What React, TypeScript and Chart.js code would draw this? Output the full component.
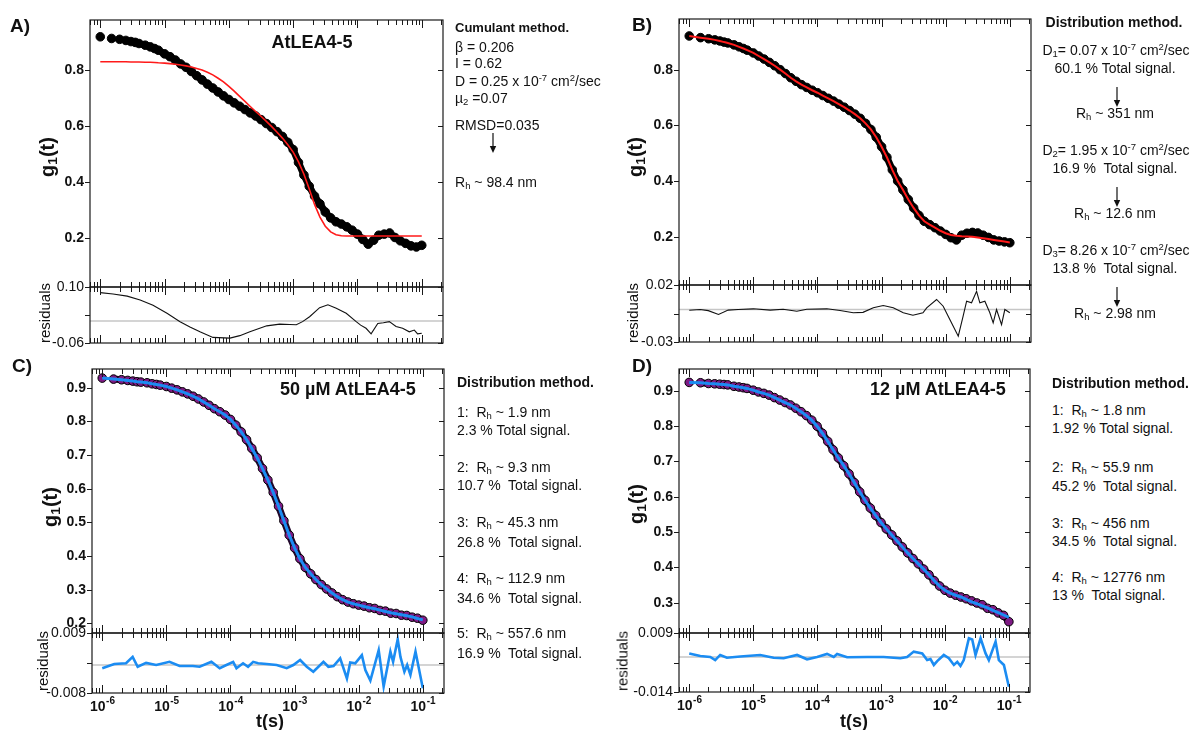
import React, { useEffect, useRef } from 'react';
import { Chart, registerables } from 'chart.js';

Chart.register(...registerables);

const FONT = '"Liberation Sans", Arial, Helvetica, sans-serif';

// ---------- shared time grid (s) ----------
const T_GRID = [
  1e-6, 1.5e-6, 2e-6, 2.5e-6, 3e-6, 3.5e-6, 4e-6, 5e-6, 6e-6, 7e-6, 8e-6,
  1e-5, 1.21e-5, 1.47e-5, 1.78e-5, 2.15e-5, 2.61e-5, 3.16e-5, 3.83e-5, 4.64e-5, 5.62e-5, 6.81e-5, 8.25e-5,
  1e-4, 1.21e-4, 1.47e-4, 1.78e-4, 2.15e-4, 2.61e-4, 3.16e-4, 3.83e-4, 4.64e-4, 5.62e-4, 6.81e-4, 8.25e-4,
  1e-3, 1.21e-3, 1.47e-3, 1.78e-3, 2.15e-3, 2.61e-3, 3.16e-3, 3.83e-3, 4.64e-3, 5.62e-3, 6.81e-3, 8.25e-3,
  1e-2, 1.21e-2, 1.47e-2, 1.78e-2, 2.15e-2, 2.61e-2, 3.16e-2, 3.83e-2, 4.64e-2, 5.62e-2, 6.81e-2, 8.25e-2,
  1e-1,
];

// ---------- panel A ----------
const A_DATA = [
  0.919, 0.913, 0.910, 0.906, 0.902, 0.899, 0.895, 0.889, 0.883, 0.877, 0.871,
  0.858, 0.848, 0.836, 0.822, 0.810, 0.795, 0.780, 0.765, 0.750, 0.736, 0.722, 0.708,
  0.695, 0.683, 0.671, 0.659, 0.647, 0.636, 0.623, 0.609, 0.595, 0.580, 0.563, 0.542,
  0.516, 0.470, 0.425, 0.385, 0.350, 0.322, 0.293, 0.272, 0.258, 0.250, 0.240, 0.228,
  0.214, 0.195, 0.178, 0.192, 0.210, 0.214, 0.218, 0.202, 0.190, 0.181, 0.172, 0.168,
  0.174,
];
const A_FIT = [
  0.830, 0.830, 0.830, 0.830, 0.829, 0.829, 0.829, 0.828, 0.828, 0.827, 0.826,
  0.825, 0.823, 0.821, 0.818, 0.815, 0.811, 0.806, 0.800, 0.792, 0.783, 0.771, 0.758,
  0.742, 0.725, 0.706, 0.688, 0.670, 0.652, 0.635, 0.617, 0.598, 0.578, 0.557, 0.533,
  0.507, 0.472, 0.428, 0.375, 0.320, 0.275, 0.242, 0.222, 0.212, 0.208, 0.207, 0.207,
  0.207, 0.207, 0.207, 0.207, 0.207, 0.207, 0.207, 0.207, 0.207, 0.207, 0.207, 0.207,
  0.207,
];
const A_RES_T = [
  1e-6, 1.58e-6, 2.62e-6, 4.17e-6, 6.61e-6, 1.09e-5, 1.74e-5, 2.48e-5, 3.55e-5, 5.65e-5,
  1.04e-4, 1.48e-4, 2.12e-4, 3.88e-4, 6.18e-4, 8.83e-4, 1.12e-3, 1.40e-3, 1.80e-3, 2.58e-3,
  3.47e-3, 4.68e-3, 6.68e-3, 9.55e-3, 1.12e-2, 1.36e-2, 1.63e-2, 2.07e-2, 2.53e-2, 3.13e-2,
  3.98e-2, 5.04e-2, 6.40e-2, 7.66e-2, 8.61e-2, 1e-1,
];
const A_RES = [
  0.081, 0.077, 0.071, 0.060, 0.045, 0.022, -0.002, -0.017, -0.031, -0.047,
  -0.049, -0.042, -0.031, -0.014, -0.009, -0.010, -0.011, -0.002, 0.012, 0.038,
  0.046, 0.036, 0.022, -0.002, -0.012, -0.021, -0.037, -0.007, -0.005, -0.002,
  -0.016, -0.021, -0.031, -0.026, -0.037, -0.035,
];

// ---------- panel B ----------
const B_DATA = [
  0.921, 0.915, 0.911, 0.907, 0.903, 0.899, 0.896, 0.889, 0.882, 0.876, 0.870,
  0.860, 0.849, 0.838, 0.826, 0.814, 0.800, 0.786, 0.771, 0.758, 0.746, 0.736, 0.726,
  0.717, 0.707, 0.697, 0.687, 0.676, 0.665, 0.653, 0.640, 0.625, 0.607, 0.585, 0.557,
  0.523, 0.485, 0.440, 0.400, 0.368, 0.333, 0.303, 0.276, 0.255, 0.243, 0.232, 0.220,
  0.208, 0.196, 0.188, 0.205, 0.212, 0.215, 0.213, 0.205, 0.197, 0.188, 0.184, 0.181,
  0.178,
];
const B_FIT = [
  0.921, 0.915, 0.911, 0.907, 0.903, 0.899, 0.896, 0.889, 0.882, 0.876, 0.870,
  0.860, 0.849, 0.838, 0.826, 0.814, 0.800, 0.786, 0.771, 0.758, 0.746, 0.736, 0.726,
  0.717, 0.707, 0.697, 0.687, 0.676, 0.665, 0.653, 0.640, 0.625, 0.607, 0.585, 0.557,
  0.523, 0.485, 0.440, 0.400, 0.368, 0.333, 0.303, 0.276, 0.255, 0.243, 0.232, 0.221,
  0.212, 0.206, 0.203, 0.201, 0.200, 0.199, 0.197, 0.194, 0.191, 0.188, 0.185, 0.182,
  0.179,
];
const B_RES_T = [
  1e-6, 1.48e-6, 1.98e-6, 2.86e-6, 4.05e-6, 5.79e-6, 1.0e-5, 1.83e-5, 2.91e-5, 4.76e-5,
  6.81e-5, 1.40e-4, 2.25e-4, 3.62e-4, 5.13e-4, 7.43e-4, 1.06e-3, 1.52e-3, 2.18e-3, 3.08e-3,
  4.42e-3, 5.05e-3, 7.21e-3, 9.14e-3, 1.16e-2, 1.57e-2, 1.87e-2, 2.12e-2, 2.53e-2, 3.03e-2,
  3.41e-2, 4.08e-2, 4.88e-2, 5.50e-2, 6.21e-2, 7.43e-2, 8.36e-2, 1e-1,
];
const B_RES = [
  -0.0006, 0.0, -0.001, -0.0044, -0.0005, 0.0, 0.0006, -0.0005, 0.0002, -0.0015,
  0.0002, 0.0006, -0.0008, -0.0029, -0.0025, 0.0015, 0.0035, 0.0015, -0.0029, -0.005,
  -0.0029, 0.0015, 0.0088, 0.0029, -0.0088, -0.0234, -0.0059, 0.0073, 0.0059, 0.016,
  0.0059, 0.0073, -0.0029, -0.0117, 0.0, -0.0132, 0.0, -0.0029,
];

// ---------- panel C ----------
const C_DATA = [
  0.929, 0.926, 0.924, 0.922, 0.920, 0.918, 0.917, 0.915, 0.912, 0.910, 0.908,
  0.904, 0.899, 0.894, 0.888, 0.882, 0.875, 0.867, 0.858, 0.848, 0.838, 0.829, 0.819,
  0.806, 0.789, 0.769, 0.746, 0.720, 0.692, 0.660, 0.626, 0.589, 0.548, 0.505, 0.462,
  0.424, 0.392, 0.366, 0.347, 0.330, 0.315, 0.302, 0.290, 0.279, 0.270, 0.263, 0.258,
  0.254, 0.251, 0.246, 0.244, 0.238, 0.236, 0.230, 0.229, 0.224, 0.223, 0.218, 0.215,
  0.209,
];
const C_FIT = [
  0.929, 0.926, 0.924, 0.922, 0.920, 0.918, 0.917, 0.915, 0.912, 0.910, 0.908,
  0.904, 0.899, 0.894, 0.888, 0.882, 0.875, 0.867, 0.858, 0.848, 0.838, 0.829, 0.819,
  0.806, 0.789, 0.769, 0.746, 0.720, 0.692, 0.660, 0.626, 0.589, 0.548, 0.505, 0.462,
  0.424, 0.392, 0.366, 0.347, 0.330, 0.315, 0.302, 0.290, 0.279, 0.270, 0.263, 0.258,
  0.254, 0.250, 0.246, 0.243, 0.239, 0.235, 0.231, 0.228, 0.225, 0.222, 0.219, 0.214,
  0.210,
];
const C_RES_T = [
  1e-6, 1.54e-6, 2.35e-6, 2.98e-6, 3.57e-6, 4.83e-6, 6.93e-6, 1.12e-5, 1.61e-5, 2.59e-5,
  3.30e-5, 5.04e-5, 6.79e-5, 8.65e-5, 1.10e-4, 1.24e-4, 1.57e-4, 1.88e-4, 2.26e-4, 2.70e-4,
  3.66e-4, 5.25e-4, 7.53e-4, 9.55e-4, 1.22e-3, 1.55e-3, 1.96e-3, 2.82e-3, 3.37e-3, 4.05e-3,
  5.14e-3, 6.55e-3, 7.38e-3, 8.83e-3, 1.12e-2, 1.27e-2, 1.52e-2, 2.05e-2, 2.45e-2, 3.12e-2,
  3.44e-2, 4.06e-2, 4.48e-2, 5.16e-2, 5.70e-2, 6.41e-2, 7.69e-2, 1e-1,
];
const C_RES = [
  -0.0009, 0.0003, 0.0005, 0.0023, -0.0005, 0.0006, 0.0, 0.0009, -0.0003, -0.0003,
  -0.0005, 0.0009, -0.0009, 0.0, 0.0009, -0.0009, 0.0005, -0.0005, 0.0009, 0.0005,
  0.0003, 0.0, -0.0009, 0.0, 0.0014, -0.0005, -0.0019, 0.0009, -0.0005, -0.0003,
  0.0019, -0.0038, 0.0007, 0.0005, 0.0028, -0.0014, -0.0044, 0.0042, -0.0061, 0.0038,
  0.0009, 0.0073, 0.0023, -0.0019, 0.0, -0.0028, 0.0038, -0.0066,
];

// ---------- panel D ----------
const D_DATA = [
  0.924, 0.923, 0.921, 0.920, 0.919, 0.918, 0.917, 0.913, 0.911, 0.909, 0.907,
  0.902, 0.897, 0.893, 0.888, 0.881, 0.874, 0.867, 0.860, 0.851, 0.841, 0.830, 0.817,
  0.800, 0.780, 0.757, 0.733, 0.710, 0.688, 0.665, 0.640, 0.614, 0.590, 0.568, 0.547,
  0.527, 0.509, 0.492, 0.475, 0.458, 0.441, 0.425, 0.410, 0.395, 0.379, 0.362, 0.347,
  0.335, 0.327, 0.321, 0.316, 0.311, 0.305, 0.299, 0.294, 0.284, 0.280, 0.271, 0.264,
  0.246,
];
const D_FIT = [
  0.924, 0.923, 0.921, 0.920, 0.919, 0.918, 0.917, 0.913, 0.911, 0.909, 0.907,
  0.902, 0.897, 0.893, 0.888, 0.881, 0.874, 0.867, 0.860, 0.851, 0.841, 0.830, 0.817,
  0.800, 0.780, 0.757, 0.733, 0.710, 0.688, 0.665, 0.640, 0.614, 0.590, 0.568, 0.547,
  0.527, 0.509, 0.492, 0.475, 0.458, 0.441, 0.425, 0.410, 0.395, 0.379, 0.362, 0.347,
  0.335, 0.327, 0.321, 0.316, 0.309, 0.302, 0.297, 0.291, 0.285, 0.278, 0.272, 0.265,
  0.258,
];
const D_RES_T = [
  1e-6, 1.49e-6, 2.13e-6, 2.55e-6, 3.05e-6, 3.89e-6, 6.30e-6, 1.29e-5, 2.09e-5, 3.00e-5,
  4.86e-5, 6.97e-5, 1e-4, 1.43e-4, 1.82e-4, 2.06e-4, 2.95e-4, 6.07e-4, 1.10e-3, 2.01e-3,
  2.56e-3, 3.25e-3, 4.41e-3, 5.27e-3, 5.94e-3, 6.70e-3, 7.57e-3, 9.59e-3, 1.15e-2, 1.38e-2,
  1.56e-2, 1.75e-2, 1.97e-2, 2.37e-2, 2.67e-2, 3.01e-2, 3.61e-2, 4.32e-2, 4.86e-2, 6.19e-2,
  6.97e-2, 8.36e-2, 1e-1,
];
const D_RES = [
  0.0014, 0.0004, 0.0, -0.0012, 0.0008, -0.0003, 0.0002, 0.0008, -0.0003, -0.0005,
  0.0008, -0.0009, 0.0, 0.0012, 0.0, 0.0012, -0.0001, 0.0, 0.0, -0.0005,
  0.0, 0.0021, 0.0014, -0.0012, -0.0008, -0.0031, -0.0016, 0.0008, -0.0005, -0.0031,
  -0.0019, -0.0035, -0.0012, 0.0073, 0.0068, 0.0008, 0.0073, 0.0014, -0.0012, 0.006,
  -0.0012, -0.0031, -0.0116,
];

// ---------- axes ----------
const X_RANGE = [6.92e-7, 0.214];
const X_DECADES = [1e-6, 1e-5, 1e-4, 1e-3, 1e-2, 1e-1];
const X_EXPONENTS = ['-6', '-5', '-4', '-3', '-2', '-1'];

const A_Y_RANGE = [0.025, 0.979];
const B_Y_RANGE = [0.026, 0.982];
const C_Y_RANGE = [0.171, 0.956];
const D_Y_RANGE = [0.214, 0.962];
const AB_Y_TICKS = [0.2, 0.4, 0.6, 0.8];
const AB_Y_LABELS = ['0.2', '0.4', '0.6', '0.8'];
const C_Y_TICKS = [0.2, 0.3, 0.4, 0.5, 0.6, 0.7, 0.8, 0.9];
const C_Y_LABELS = ['0.2', '0.3', '0.4', '0.5', '0.6', '0.7', '0.8', '0.9'];
const D_Y_TICKS = [0.3, 0.4, 0.5, 0.6, 0.7, 0.8, 0.9];
const D_Y_LABELS = ['0.3', '0.4', '0.5', '0.6', '0.7', '0.8', '0.9'];

const A_RES_RANGE = [-0.063, 0.097];
const A_RES_TICKS = [-0.063, 0.017, 0.097];
const A_RES_LABELS = ['-0.06', '', '0.10'];
const B_RES_RANGE = [-0.0285, 0.0215];
const B_RES_TICKS = [-0.0285, -0.0035, 0.0215];
const B_RES_LABELS = ['-0.03', '', '0.02'];
const C_RES_RANGE = [-0.00793, 0.00907];
const C_RES_TICKS = [-0.00793, 0.00057, 0.00907];
const C_RES_LABELS = ['-0.008', '', '0.009'];
const D_RES_RANGE = [-0.01365, 0.00936];
const D_RES_TICKS = [-0.01365, -0.00215, 0.00936];
const D_RES_LABELS = ['-0.014', '', '0.009'];

const PAD = { l: 60, r: 12, t: 12, b: 40 };
const BLUE = '#1b8cf2';
const PURPLE = '#7e1a84';

const pts = (xs: number[], ys: number[]) => xs.map((x, i) => ({ x, y: ys[i] }));

function makeAxesPlugin(ax: any) {
  return {
    id: 'frameAxes',
    beforeDatasetsDraw(chart: any) {
      if (!ax.zeroLine) return;
      const { ctx, chartArea: a, scales } = chart;
      const y = scales.y.getPixelForValue(0);
      ctx.save();
      ctx.strokeStyle = '#c6c6c6';
      ctx.lineWidth = 1.5;
      ctx.beginPath();
      ctx.moveTo(a.left, y);
      ctx.lineTo(a.right, y);
      ctx.stroke();
      ctx.restore();
    },
    afterDraw(chart: any) {
      const { ctx, chartArea: a, scales } = chart;
      const xs = scales.x;
      const ys = scales.y;
      ctx.save();
      ctx.strokeStyle = '#1a1a1a';
      ctx.lineWidth = 1.2;
      ctx.strokeRect(a.left, a.top, a.right - a.left, a.bottom - a.top);
      ctx.lineWidth = 1;
      for (let k = -7; k <= 0; k++) {
        for (let m = 1; m <= 9; m++) {
          const v = m * Math.pow(10, k);
          if (v < xs.min || v > xs.max) continue;
          const px = Math.round(xs.getPixelForValue(v)) + 0.5;
          const len = m === 1 ? 8 : 5;
          ctx.beginPath();
          ctx.moveTo(px, a.top);
          ctx.lineTo(px, a.top + len);
          ctx.moveTo(px, a.bottom);
          ctx.lineTo(px, a.bottom - len);
          ctx.stroke();
        }
      }
      ax.yTicks.forEach((v: number, i: number) => {
        const py = Math.round(ys.getPixelForValue(v)) + 0.5;
        ctx.beginPath();
        ctx.moveTo(a.left - 5, py);
        ctx.lineTo(a.left, py);
        ctx.moveTo(a.right - 5, py);
        ctx.lineTo(a.right, py);
        ctx.stroke();
        const lbl = ax.yLabels[i];
        if (lbl) {
          ctx.font = ax.yFont;
          ctx.fillStyle = '#111';
          ctx.textAlign = 'right';
          ctx.textBaseline = 'middle';
          ctx.fillText(lbl, a.left - 6, py);
        }
      });
      if (ax.xLabels) {
        ctx.fillStyle = '#111';
        ctx.textAlign = 'left';
        ctx.textBaseline = 'alphabetic';
        X_DECADES.forEach((v, i) => {
          const px = xs.getPixelForValue(v);
          ctx.font = `bold 14px ${FONT}`;
          const w1 = ctx.measureText('10').width;
          ctx.font = `bold 10px ${FONT}`;
          const w2 = ctx.measureText(X_EXPONENTS[i]).width;
          const x0 = px - (w1 + w2) / 2;
          ctx.font = `bold 14px ${FONT}`;
          ctx.fillText('10', x0, a.bottom + 18);
          ctx.font = `bold 10px ${FONT}`;
          ctx.fillText(X_EXPONENTS[i], x0 + w1 + 0.5, a.bottom + 11);
        });
      }
      ctx.restore();
    },
  };
}

type Spec = {
  left: number; top: number; width: number; height: number;
  datasets: any[]; yRange: number[]; axes: any;
};

function ChartBox({ spec }: { spec: Spec }) {
  const ref = useRef<HTMLCanvasElement>(null);
  const W = spec.width + PAD.l + PAD.r;
  const H = spec.height + PAD.t + PAD.b;
  useEffect(() => {
    const chart = new Chart(ref.current as HTMLCanvasElement, {
      type: 'scatter',
      data: { datasets: spec.datasets },
      options: {
        responsive: false,
        animation: false,
        devicePixelRatio: 1,
        events: [],
        layout: { padding: { left: PAD.l, right: PAD.r, top: PAD.t, bottom: PAD.b } },
        plugins: { legend: { display: false }, tooltip: { enabled: false } },
        scales: {
          x: { type: 'logarithmic', min: X_RANGE[0], max: X_RANGE[1], display: false },
          y: { type: 'linear', min: spec.yRange[0], max: spec.yRange[1], display: false },
        },
      } as any,
      plugins: [makeAxesPlugin(spec.axes)],
    });
    return () => chart.destroy();
  }, [spec]);
  return (
    <canvas
      ref={ref}
      width={W}
      height={H}
      style={{ position: 'absolute', left: spec.left - PAD.l, top: spec.top - PAD.t, width: W, height: H }}
    />
  );
}

const dots = (ys: number[], fill: string, under: string, gapSegments: number) => ({
  data: pts(T_GRID, ys),
  showLine: true,
  borderColor: under,
  borderWidth: 7,
  borderJoinStyle: 'round',
  borderCapStyle: 'round',
  segment: {
    borderColor: (c: any) => (c.p0DataIndex < gapSegments ? 'rgba(0,0,0,0)' : undefined),
  },
  pointRadius: 4.3,
  pointBackgroundColor: fill,
  pointBorderColor: '#000',
  pointBorderWidth: 1,
  order: 2,
});
const fitLine = (ys: number[], color: string, width: number) => ({
  data: pts(T_GRID, ys),
  showLine: true,
  borderColor: color,
  borderWidth: width,
  pointRadius: 0,
  order: 1,
});
const resLine = (ts: number[], ys: number[], color: string, width: number) => ({
  data: pts(ts, ys),
  showLine: true,
  borderColor: color,
  borderWidth: width,
  pointRadius: 0,
});

const MAIN_FONT = `bold 14px ${FONT}`;
const RES_FONT = `14px ${FONT}`;

const SPECS: Spec[] = [
  {
    left: 90, top: 20, width: 353, height: 267, yRange: A_Y_RANGE,
    datasets: [fitLine(A_FIT, '#ff1a1a', 1.6), dots(A_DATA, '#000', '#000', 3)],
    axes: { yTicks: AB_Y_TICKS, yLabels: AB_Y_LABELS, yFont: MAIN_FONT },
  },
  {
    left: 90, top: 287, width: 353, height: 56, yRange: A_RES_RANGE,
    datasets: [resLine(A_RES_T, A_RES, '#111', 1.1)],
    axes: { yTicks: A_RES_TICKS, yLabels: A_RES_LABELS, yFont: RES_FONT, zeroLine: true },
  },
  {
    left: 679, top: 19, width: 352, height: 266, yRange: B_Y_RANGE,
    datasets: [fitLine(B_FIT, '#ff1a1a', 2), dots(B_DATA, '#000', '#000', 2)],
    axes: { yTicks: AB_Y_TICKS, yLabels: AB_Y_LABELS, yFont: MAIN_FONT },
  },
  {
    left: 679, top: 285, width: 352, height: 57, yRange: B_RES_RANGE,
    datasets: [resLine(B_RES_T, B_RES, '#111', 1.1)],
    axes: { yTicks: B_RES_TICKS, yLabels: B_RES_LABELS, yFont: RES_FONT, zeroLine: true },
  },
  {
    left: 92, top: 369, width: 352, height: 264, yRange: C_Y_RANGE,
    datasets: [fitLine(C_FIT, BLUE, 3), dots(C_DATA, PURPLE, '#22082a', 1)],
    axes: { yTicks: C_Y_TICKS, yLabels: C_Y_LABELS, yFont: MAIN_FONT },
  },
  {
    left: 92, top: 633, width: 352, height: 60, yRange: C_RES_RANGE,
    datasets: [resLine(C_RES_T, C_RES, BLUE, 2.6)],
    axes: { yTicks: C_RES_TICKS, yLabels: C_RES_LABELS, yFont: RES_FONT, zeroLine: true, xLabels: true },
  },
  {
    left: 679, top: 369, width: 351, height: 264, yRange: D_Y_RANGE,
    datasets: [fitLine(D_FIT, BLUE, 3), dots(D_DATA, PURPLE, '#22082a', 1)],
    axes: { yTicks: D_Y_TICKS, yLabels: D_Y_LABELS, yFont: MAIN_FONT },
  },
  {
    left: 679, top: 633, width: 351, height: 59, yRange: D_RES_RANGE,
    datasets: [resLine(D_RES_T, D_RES, BLUE, 2.6)],
    axes: { yTicks: D_RES_TICKS, yLabels: D_RES_LABELS, yFont: RES_FONT, zeroLine: true, xLabels: true },
  },
];

// ---------- text helpers ----------
const Sub = ({ c }: { c: string }) => (
  <span style={{ fontSize: '68%', verticalAlign: '-0.25em', lineHeight: 0 }}>{c}</span>
);
const Sup = ({ c }: { c: string }) => (
  <span style={{ fontSize: '68%', verticalAlign: '0.5em', lineHeight: 0 }}>{c}</span>
);

function Line({ x, cy, children, size = 14, bold = false, center = false }: any) {
  const lh = Math.round(size * 1.2);
  return (
    <div
      style={{
        position: 'absolute',
        left: center ? x - 150 : x,
        top: cy - lh / 2,
        width: center ? 300 : undefined,
        textAlign: center ? 'center' : 'left',
        fontSize: size,
        lineHeight: `${lh}px`,
        fontWeight: bold ? 700 : 400,
        whiteSpace: 'pre',
      }}
    >
      {children}
    </div>
  );
}

function VText({ cx, cy, children, size, bold = false }: any) {
  return (
    <div
      style={{
        position: 'absolute',
        left: cx,
        top: cy,
        transform: 'translate(-50%, -50%) rotate(-90deg)',
        fontSize: size,
        fontWeight: bold ? 700 : 400,
        whiteSpace: 'nowrap',
        lineHeight: 1,
      }}
    >
      {children}
    </div>
  );
}

function Arrow({ x, y1, y2 }: { x: number; y1: number; y2: number }) {
  const h = y2 - y1;
  return (
    <svg style={{ position: 'absolute', left: x - 5, top: y1 }} width={10} height={h}>
      <line x1={5} y1={0} x2={5} y2={h - 4} stroke="#111" strokeWidth={1.2} />
      <polygon points={`1.8,${h - 7} 8.2,${h - 7} 5,${h}`} fill="#111" />
    </svg>
  );
}

const Rh = () => (
  <>
    R<Sub c="h" />
  </>
);

export default function App() {
  return (
    <div
      style={{
        position: 'absolute',
        left: 0,
        top: 0,
        width: 1192,
        height: 730,
        overflow: 'hidden',
        background: '#fff',
        fontFamily: FONT,
        color: '#111',
      }}
    >
      {SPECS.map((s, i) => (
        <ChartBox key={i} spec={s} />
      ))}

      {/* panel letters */}
      <Line x={10} cy={25} size={19} bold>{'A)'}</Line>
      <Line x={632} cy={24} size={19} bold>{'B)'}</Line>
      <Line x={12} cy={365} size={19} bold>{'C)'}</Line>
      <Line x={632} cy={365} size={19} bold>{'D)'}</Line>

      {/* in-plot titles */}
      <Line x={312} cy={42} size={18} bold center>{'AtLEA4-5'}</Line>
      <Line x={280} cy={389} size={18} bold>{'50 µM AtLEA4-5'}</Line>
      <Line x={870} cy={389} size={18} bold>{'12 µM AtLEA4-5'}</Line>

      {/* axis titles */}
      <VText cx={47} cy={157} size={20} bold>g<Sub c="1" />(t)</VText>
      <VText cx={635} cy={157} size={20} bold>g<Sub c="1" />(t)</VText>
      <VText cx={50} cy={507} size={20} bold>g<Sub c="1" />(t)</VText>
      <VText cx={636} cy={504} size={20} bold>g<Sub c="1" />(t)</VText>
      <VText cx={44} cy={313} size={15}>residuals</VText>
      <VText cx={632} cy={313} size={15}>residuals</VText>
      <VText cx={42} cy={661} size={15}>residuals</VText>
      <VText cx={622} cy={661} size={15}>residuals</VText>
      <Line x={270} cy={721} size={18} bold center>{'t(s)'}</Line>
      <Line x={854} cy={721} size={18} bold center>{'t(s)'}</Line>

      {/* panel A annotations */}
      <Line x={455} cy={28} size={13} bold>{'Cumulant method.'}</Line>
      <Line x={455} cy={47}>{'β = 0.206'}</Line>
      <Line x={455} cy={63}>{'I = 0.62'}</Line>
      <Line x={455} cy={81}>{'D = 0.25 x 10'}<Sup c="-7" />{' cm'}<Sup c="2" />{'/sec'}</Line>
      <Line x={455} cy={98}>{'µ'}<Sub c="2" />{' =0.07'}</Line>
      <Line x={455} cy={125}>{'RMSD=0.035'}</Line>
      <Arrow x={493} y1={133} y2={153} />
      <Line x={455} cy={182}><Rh />{' ~ 98.4 nm'}</Line>

      {/* panel B annotations */}
      <Line x={1114} cy={22} bold center>{'Distribution method.'}</Line>
      <Line x={1116} cy={50} center>{'D'}<Sub c="1" />{'= 0.07 x 10'}<Sup c="-7" />{' cm'}<Sup c="2" />{'/sec'}</Line>
      <Line x={1115} cy={68} center>{'60.1 % Total signal.'}</Line>
      <Arrow x={1117} y1={87} y2={107} />
      <Line x={1115} cy={113} center><Rh />{' ~ 351 nm'}</Line>
      <Line x={1116} cy={150} center>{'D'}<Sub c="2" />{'= 1.95 x 10'}<Sup c="-7" />{' cm'}<Sup c="2" />{'/sec'}</Line>
      <Line x={1115} cy={168} center>{'16.9 %  Total signal.'}</Line>
      <Arrow x={1117} y1={187} y2={207} />
      <Line x={1115} cy={213} center><Rh />{' ~ 12.6 nm'}</Line>
      <Line x={1116} cy={250} center>{'D'}<Sub c="3" />{'= 8.26 x 10'}<Sup c="-7" />{' cm'}<Sup c="2" />{'/sec'}</Line>
      <Line x={1115} cy={268} center>{'13.8 %  Total signal.'}</Line>
      <Arrow x={1117} y1={287} y2={307} />
      <Line x={1115} cy={313} center><Rh />{' ~ 2.98 nm'}</Line>

      {/* panel C annotations */}
      <Line x={457} cy={382} bold>{'Distribution method.'}</Line>
      <Line x={457} cy={412}>{'1:  '}<Rh />{' ~ 1.9 nm'}</Line>
      <Line x={457} cy={430}>{'2.3 % Total signal.'}</Line>
      <Line x={457} cy={467}>{'2:  '}<Rh />{' ~ 9.3 nm'}</Line>
      <Line x={457} cy={485}>{'10.7 %  Total signal.'}</Line>
      <Line x={457} cy={522}>{'3:  '}<Rh />{' ~ 45.3 nm'}</Line>
      <Line x={457} cy={542}>{'26.8 %  Total signal.'}</Line>
      <Line x={457} cy={578}>{'4:  '}<Rh />{' ~ 112.9 nm'}</Line>
      <Line x={457} cy={598}>{'34.6 %  Total signal.'}</Line>
      <Line x={457} cy={633}>{'5:  '}<Rh />{' ~ 557.6 nm'}</Line>
      <Line x={457} cy={653}>{'16.9 %  Total signal.'}</Line>

      {/* panel D annotations */}
      <Line x={1052} cy={383} bold>{'Distribution method.'}</Line>
      <Line x={1052} cy={410}>{'1:  '}<Rh />{' ~ 1.8 nm'}</Line>
      <Line x={1052} cy={428}>{'1.92 % Total signal.'}</Line>
      <Line x={1052} cy={467}>{'2:  '}<Rh />{' ~ 55.9 nm'}</Line>
      <Line x={1052} cy={486}>{'45.2 %  Total signal.'}</Line>
      <Line x={1052} cy={523}>{'3:  '}<Rh />{' ~ 456 nm'}</Line>
      <Line x={1052} cy={541}>{'34.5 %  Total signal.'}</Line>
      <Line x={1052} cy={577}>{'4:  '}<Rh />{' ~ 12776 nm'}</Line>
      <Line x={1052} cy={595}>{'13 %  Total signal.'}</Line>
    </div>
  );
}
